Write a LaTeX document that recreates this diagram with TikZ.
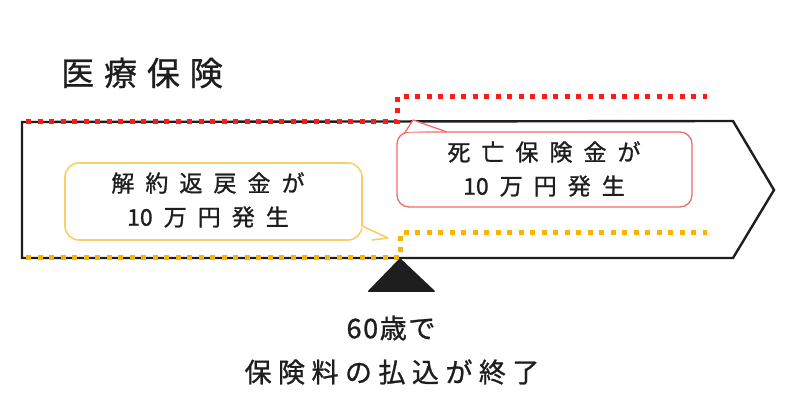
\documentclass[tikz,border=0pt]{standalone}
\usepackage{fontspec}
\newfontfamily\jptitle[LetterSpace=30,FakeBold=0.8]{Noto Sans CJK JP}
\newfontfamily\jpcall[LetterSpace=48,FakeBold=1]{Noto Sans CJK JP}
\newfontfamily\jpbot[LetterSpace=24,FakeBold=1]{Noto Sans CJK JP}
\newfontfamily\jptight[LetterSpace=6,FakeBold=1]{Noto Sans CJK JP}
\newcommand\tightdigit[1]{{\addfontfeature{LetterSpace=6}#1}}
\definecolor{dotred}{HTML}{FF1A1A}
\definecolor{callred}{HTML}{F26B6B}
\definecolor{dotorange}{HTML}{F7B500}
\definecolor{callorange}{HTML}{F8CF6A}
\definecolor{ink}{HTML}{1E1E1E}
\tikzset{
  frame/.style={draw=ink, line width=2.4pt, line join=miter},
  reddots/.style={draw=dotred, line width=5pt, dash pattern=on 5pt off 6.5pt},
  orangedots/.style={draw=dotorange, line width=5pt, dash pattern=on 5pt off 6.5pt},
  redcall/.style={draw=callred, line width=1.3pt, fill=white, rounded corners=12pt},
  orangecall/.style={draw=callorange, line width=1.6pt, fill=white, rounded corners=14pt},
  lbl/.style={text=ink, inner sep=0pt, anchor=center},
  calltext/.style={lbl, font=\jpcall\fontsize{23}{23}\selectfont},
  captext/.style={lbl, font=\jpbot\fontsize{27}{27}\selectfont},
}
\begin{document}
\begin{tikzpicture}[x=1pt,y=-1pt]
\useasboundingbox (0,0) rectangle (800,419);
% main arrow band
\coordinate (tl) at (22,122);
\coordinate (tr) at (733,121);
\coordinate (tip) at (774,190);
\coordinate (br) at (733,258);
\coordinate (bl) at (22,258);
\draw[frame] (bl) -- (tl) -- (tr) -- (tip) -- (br) -- cycle;
% dotted guide lines
\coordinate (r1) at (26,122);
\coordinate (r2) at (397,122);
\coordinate (r3) at (397,97);
\coordinate (r4) at (707,97);
\draw[reddots] (r1) -- (r2) -- (r3) -- (r4);
\coordinate (o1) at (26,258);
\coordinate (o2) at (400,258);
\coordinate (o3) at (400,233);
\coordinate (o4) at (707,233);
\draw[orangedots] (o1) -- (o2) -- (o3) -- (o4);
% triangle marker
\coordinate (ta) at (400,258);
\coordinate (tb) at (436,292);
\coordinate (tc) at (367,292);
\fill[ink, rounded corners=1.5pt] (ta) -- (tb) -- (tc) -- cycle;
% red callout
\coordinate (rc1) at (397,132);
\coordinate (rc2) at (692,207);
\coordinate (rtip) at (413,120);
\coordinate (rta) at (404,134);
\coordinate (rtb) at (447,132);
\draw[redcall] (rc1) rectangle (rc2);
\fill[white] (rtip) -- (rtb) -- ([yshift=1.5pt]rtb) -- ([yshift=2pt]rta) -- (rta) -- cycle;
\draw[callred, line width=1.3pt, line join=round] (rta) -- (rtip) -- (rtb);
\node[calltext] (rt1) at (544,152) {死亡保険金が};
\node[calltext] (rt2) at (544,186) {\tightdigit{1}0万円発生};
% orange callout
\coordinate (oc1) at (65,163);
\coordinate (oc2) at (362,240);
\coordinate (otip) at (388,238);
\coordinate (ota) at (362,226);
\coordinate (otb) at (372,240);
\draw[orangecall] (oc1) rectangle (oc2);
\fill[white] (otip) -- (otb) -- ([yshift=-1.5pt]otb) -- ([xshift=-1.5pt]ota) -- (ota) -- cycle;
\draw[callorange, line width=1.6pt, line join=round] (ota) -- (otip) -- (otb);
\node[calltext] (ot1) at (208,183) {解約返戻金が};
\node[calltext] (ot2) at (208,217) {\tightdigit{1}0万円発生};
% title
\node[lbl, font=\jptitle\fontsize{33}{33}\selectfont] (title) at (142,73) {医療保険};
% bottom caption
\node[lbl, font=\jptight\fontsize{27}{27}\selectfont] (cap1) at (391,328) {60歳で};
\node[captext] (cap2) at (392,372) {保険料の払込が終了};
\end{tikzpicture}
\end{document}
